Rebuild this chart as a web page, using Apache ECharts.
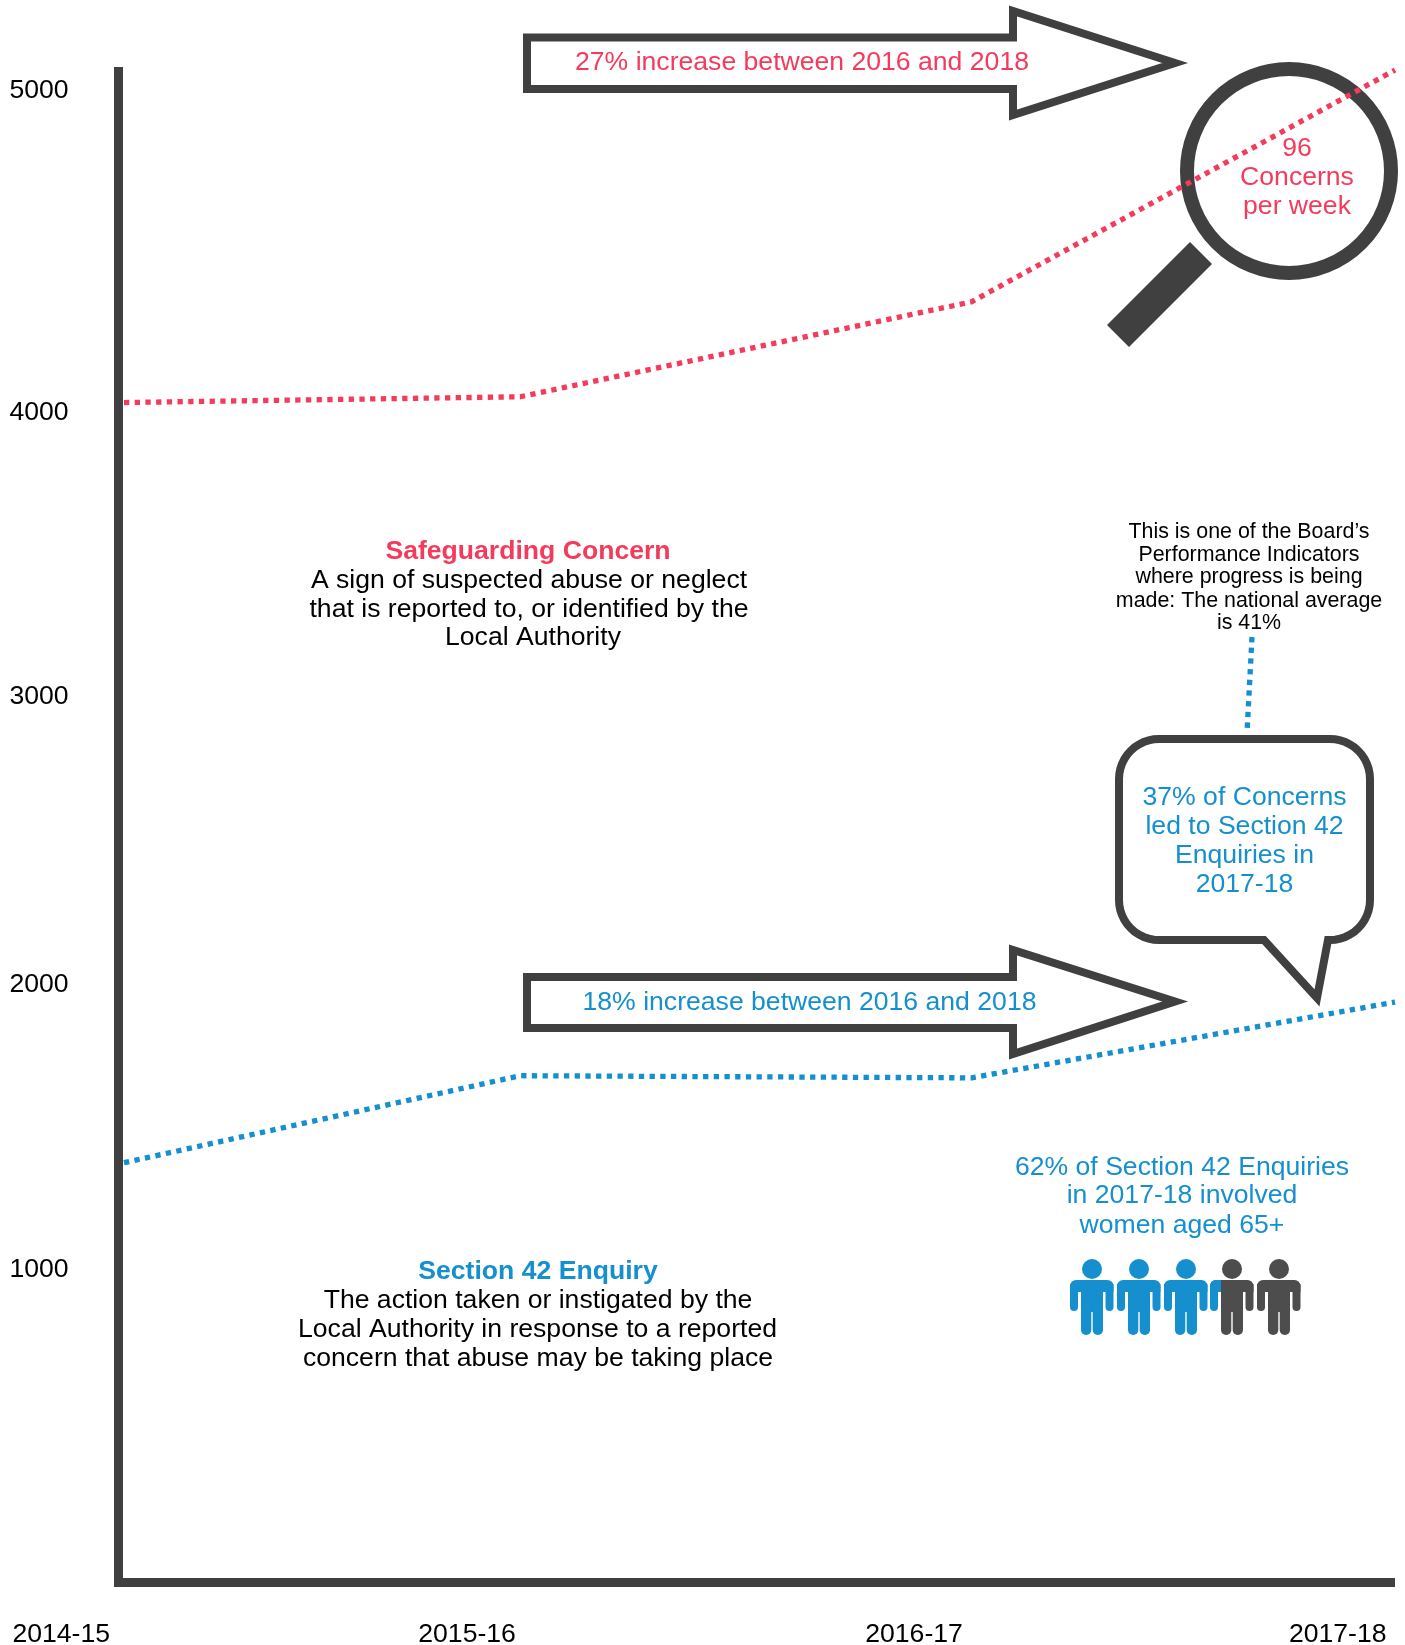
<!DOCTYPE html>
<html>
<head>
<meta charset="utf-8">
<script src="https://cdn.jsdelivr.net/npm/echarts@6/dist/echarts.min.js"></script>
<style>html,body{margin:0;padding:0;background:#fff;overflow:hidden}#chart{width:1405px;height:1645px}</style>
</head>
<body>
<div id="chart"></div>
<script>
const periods = ['2014-15', '2015-16', '2016-17', '2017-18'];
const pointPositions = [0, 0.935, 2, 3];
const concerns = [3893, 3912, 4225, 4990];
const enquiries = [1385, 1672, 1665, 1915];
const xLabelAnchors = [-0.013, 0.945, 2, 3];
const yLabels = ['1000', '2000', '3000', '4000', '5000'];
const yLabelAnchors = [1031, 1971, 2921, 3861, 4921];

const RED = '#F43B5C', BLUE = '#158FCE', DARK = '#404040', GREY = '#4D4D4D';
const FONT = '"Liberation Sans", Arial, sans-serif';

function txt(x, y, text, fill, size, weight) {
  return { type: 'text', z: 20, style: { x, y: y + 2, text, fill, textAlign: 'center', textVerticalAlign: 'middle',
    font: (weight || 'normal') + ' ' + (size || 26.6) + 'px ' + FONT } };
}
function outline(points) {
  return { type: 'polygon', z: 5, shape: { points }, style: { fill: 'none', stroke: DARK, lineWidth: 8, lineJoin: 'miter', miterLimit: 10 } };
}
function arrowPoints(top, bottom, headTop, headBottom, mid) {
  return [[527, top], [1013, top], [1013, headTop], [1175, mid], [1013, headBottom], [1013, bottom], [527, bottom]];
}
function arc(cx, cy, r, from) {
  const out = [];
  for (let i = 0; i <= 12; i++) {
    const a = (from + i * 90 / 12) * Math.PI / 180;
    out.push([cx + r * Math.cos(a), cy + r * Math.sin(a)]);
  }
  return out;
}
function bubblePoints() {
  return [].concat(
    arc(1159, 779, 40, 180), arc(1330, 779, 40, 270), arc(1330, 900, 40, 0),
    [[1328, 940], [1317, 998], [1264, 940]],
    arc(1159, 900, 40, 90)
  );
}
function person(cx, colour, splitArm) {
  const parts = [
    { type: 'circle', shape: { cx: cx, cy: 1269, r: 10 }, style: { fill: colour } },
    { type: 'rect', shape: { x: cx - 22, y: 1280, width: 43.5, height: 12, r: [6, 6, 0, 0] }, style: { fill: colour } },
    { type: 'rect', shape: { x: cx - 22, y: 1284, width: 8, height: 27, r: [0, 0, 4, 4] }, style: { fill: splitArm || colour } },
    { type: 'rect', shape: { x: cx + 13.5, y: 1284, width: 8, height: 27, r: [0, 0, 4, 4] }, style: { fill: colour } },
    { type: 'rect', shape: { x: cx - 11, y: 1284, width: 22, height: 28 }, style: { fill: colour } },
    { type: 'rect', shape: { x: cx - 11, y: 1305, width: 10.3, height: 30, r: [0, 0, 5, 5] }, style: { fill: colour } },
    { type: 'rect', shape: { x: cx + 0.7, y: 1305, width: 10.3, height: 30, r: [0, 0, 5, 5] }, style: { fill: colour } }
  ];
  if (splitArm) parts.push({ type: 'rect', shape: { x: cx - 22, y: 1280, width: 11, height: 12, r: [6, 0, 0, 0] }, style: { fill: splitArm } });
  return parts.map(p => Object.assign(p, { z: 6 }));
}

const graphics = [
  { type: 'rect', z: 1, shape: { x: 114, y: 1578, width: 9, height: 9 }, style: { fill: DARK } },
  outline(arrowPoints(37.5, 89, 11, 115, 63)),
  outline(arrowPoints(977, 1028, 950, 1054, 1001.5)),
  outline(bubblePoints()),
  { type: 'circle', z: 5, shape: { cx: 1289, cy: 171, r: 102 }, style: { fill: 'none', stroke: DARK, lineWidth: 14 } },
  { type: 'polygon', z: 5, shape: { points: [[1190, 242], [1212, 264], [1129, 347], [1107, 325]] }, style: { fill: DARK } },
  { type: 'line', z: 5, shape: { x1: 1252, y1: 637, x2: 1247, y2: 733 }, style: { stroke: BLUE, lineWidth: 5.3, lineDash: [5.3, 5.4] } },

  txt(802, 61, '27% increase between 2016 and 2018', RED),
  txt(809.5, 1000.5, '18% increase between 2016 and 2018', BLUE),
  txt(1297, 147, '96', RED), txt(1297, 176, 'Concerns', RED), txt(1297, 205, 'per week', RED),

  txt(528, 550, 'Safeguarding Concern', RED, 26.6, 'bold'),
  txt(529, 579, 'A sign of suspected abuse or neglect', '#000'),
  txt(529, 607.5, 'that is reported to, or identified by the', '#000'),
  txt(533, 636, 'Local Authority', '#000'),

  txt(538, 1270, 'Section 42 Enquiry', BLUE, 26.6, 'bold'),
  txt(538, 1298.5, 'The action taken or instigated by the', '#000'),
  txt(537.5, 1327.5, 'Local Authority in response to a reported', '#000'),
  txt(538, 1357, 'concern that abuse may be taking place', '#000'),

  txt(1249, 530, 'This is one of the Board’s', '#000', 21.4),
  txt(1249, 553, 'Performance Indicators', '#000', 21.4),
  txt(1249, 575.5, 'where progress is being', '#000', 21.4),
  txt(1249, 599, 'made: The national average', '#000', 21.4),
  txt(1249, 621.5, 'is 41%', '#000', 21.4),

  txt(1244.5, 796, '37% of Concerns', BLUE),
  txt(1244.5, 824.5, 'led to Section 42', BLUE),
  txt(1244.5, 853.5, 'Enquiries in', BLUE),
  txt(1244.5, 883, '2017-18', BLUE),

  txt(1182, 1166, '62% of Section 42 Enquiries', BLUE),
  txt(1182, 1194, 'in 2017-18 involved', BLUE),
  txt(1182, 1224, 'women aged 65+', BLUE)
].concat(
  person(1092, BLUE), person(1139, BLUE), person(1186, BLUE), person(1232, GREY, BLUE), person(1279, GREY)
);

const toPoints = vals => vals.map((v, i) => [pointPositions[i], v]);
const dotted = colour => ({ type: 'line', z: 10, symbol: 'none', silent: true, clip: false,
  lineStyle: { color: colour, width: 5.3, type: [5.3, 5.4], cap: 'butt' } });

const chart = echarts.init(document.getElementById('chart'), null, { width: 1405, height: 1645 });
chart.setOption({
  animation: false,
  backgroundColor: '#fff',
  textStyle: { fontFamily: FONT },
  grid: { left: 118.5, right: 10, top: 67, bottom: 62.5, outerBoundsMode: 'none' },
  xAxis: {
    type: 'value', min: -0.013, max: 3, splitLine: { show: false }, axisTick: { show: false },
    axisLine: { show: true, onZero: false, lineStyle: { color: DARK, width: 9, cap: 'butt' } },
    axisLabel: {
      customValues: xLabelAnchors, color: '#000', fontSize: 26.6, fontFamily: FONT, margin: 39,
      align: 'right', padding: [0, 8.5, 0, 0], showMinLabel: true, showMaxLabel: true,
      formatter: v => periods[xLabelAnchors.indexOf(v)]
    }
  },
  yAxis: {
    type: 'value', min: 0, max: 5000, splitLine: { show: false }, axisTick: { show: false },
    axisLine: { show: true, onZero: false, lineStyle: { color: DARK, width: 9, cap: 'butt' } },
    axisLabel: {
      customValues: yLabelAnchors, color: '#000', fontSize: 26.6, fontFamily: FONT, margin: 109, align: 'left',
      formatter: v => yLabels[yLabelAnchors.indexOf(v)]
    }
  },
  graphic: { elements: graphics },
  series: [
    Object.assign(dotted(RED), { name: 'Safeguarding Concern', data: toPoints(concerns) }),
    Object.assign(dotted(BLUE), { name: 'Section 42 Enquiry', data: toPoints(enquiries) })
  ]
});
</script>
</body>
</html>
